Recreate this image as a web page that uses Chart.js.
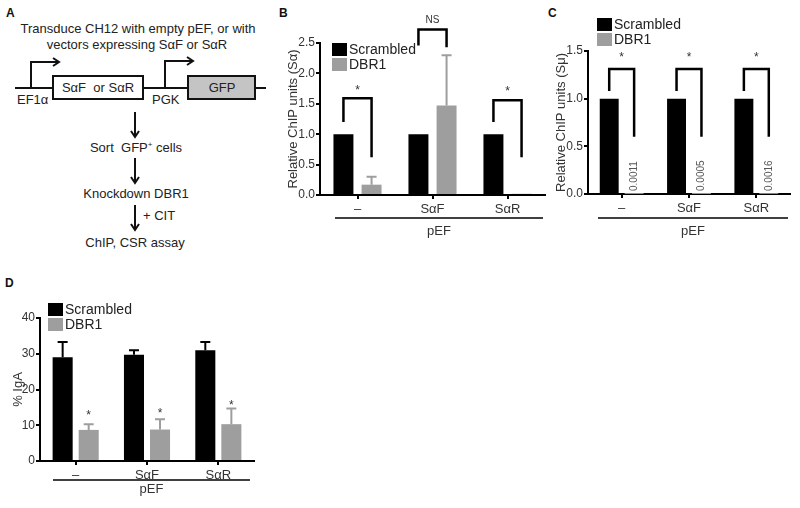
<!DOCTYPE html>
<html>
<head>
<meta charset="utf-8">
<script src="https://cdn.jsdelivr.net/npm/chart.js@4.4.1/dist/chart.umd.min.js"></script>
<style>
  body { margin: 0; width: 800px; height: 508px; background: #fff; position: relative; overflow: hidden; font-family: "Liberation Sans", Arial, sans-serif; }
  .panel { position: absolute; }
  .tag { position: absolute; font-weight: bold; font-size: 12px; color: #111; }
</style>
</head>
<body>

<!-- Panel A: workflow scheme -->
<svg class="panel" style="left:0;top:0" width="280" height="260" font-family="Liberation Sans, Arial, sans-serif" font-size="13" fill="#222">
  <defs>
    <marker id="ah" markerWidth="10" markerHeight="10" refX="7" refY="5" orient="auto" markerUnits="userSpaceOnUse">
      <path d="M1,1 L7,5 L1,9" fill="none" stroke="#111" stroke-width="2"/>
    </marker>
  </defs>
  <text x="138" y="33" text-anchor="middle">Transduce CH12 with empty pEF, or with</text>
  <text x="137" y="49" text-anchor="middle">vectors expressing SαF or SαR</text>
  <line x1="15" y1="88" x2="266" y2="88" stroke="#111" stroke-width="2"/>
  <rect x="53" y="76" width="90" height="23" fill="#fff" stroke="#111" stroke-width="2"/>
  <text x="98" y="92" text-anchor="middle" xml:space="preserve">SαF  or SαR</text>
  <rect x="188" y="76" width="67" height="23" fill="#c4c4c4" stroke="#111" stroke-width="2"/>
  <text x="222" y="92" text-anchor="middle">GFP</text>
  <polyline points="31,88 31,62 59,62" fill="none" stroke="#111" stroke-width="2" marker-end="url(#ah)"/>
  <polyline points="165,88 165,61 193,61" fill="none" stroke="#111" stroke-width="2" marker-end="url(#ah)"/>
  <text x="17" y="104">EF1α</text>
  <text x="152" y="104">PGK</text>
  <line x1="135" y1="112" x2="135" y2="137" stroke="#111" stroke-width="2" marker-end="url(#ah)"/>
  <text x="136" y="152" text-anchor="middle" xml:space="preserve">Sort  GFP<tspan font-size="8" dy="-5">+</tspan><tspan dy="5"> cells</tspan></text>
  <line x1="135" y1="158" x2="135" y2="183" stroke="#111" stroke-width="2" marker-end="url(#ah)"/>
  <text x="136" y="198" text-anchor="middle">Knockdown DBR1</text>
  <line x1="135" y1="205" x2="135" y2="230" stroke="#111" stroke-width="2" marker-end="url(#ah)"/>
  <text x="143" y="220">+ CIT</text>
  <text x="135" y="247" text-anchor="middle">ChIP, CSR assay</text>
</svg>

<div class="tag" style="left:6px;top:6px">A</div>
<div class="tag" style="left:279px;top:6px">B</div>
<div class="tag" style="left:548px;top:6px">C</div>
<div class="tag" style="left:5px;top:276px">D</div>

<div class="panel" style="left:250px;top:0;width:300px;height:250px"><canvas id="chartB"></canvas></div>
<div class="panel" style="left:520px;top:0;width:280px;height:250px"><canvas id="chartC"></canvas></div>
<div class="panel" style="left:0;top:260px;width:270px;height:248px"><canvas id="chartD"></canvas></div>

<script>
const groups = ['–', 'SαF', 'SαR'];
const seriesNames = ['Scrambled', 'DBR1'];

// B: relative ChIP units (Sα)
const bScrambled = [1, 1, 1];
const bDbr1 = [0.17, 1.47, 0.02];
const bDbr1Err = [0.30, 2.30, null];
const bBracketTop = [1.59, 2.72, 1.56];
const bBracketLeft = [1.2, 2.46, 1.2];
const bBracketRight = [0.62, 2.43, 0.62];
const bSigText = ['*', 'NS', '*'];
const bSigY = [1.77, 2.87, 1.75];

// C: relative ChIP units (Sμ)
const cScrambled = [1, 1, 1];
const cDbr1 = [0.0011, 0.0005, 0.0016];
const cBracketTop = [1.31, 1.31, 1.31];
const cBracketLeft = [1.08, 1.08, 1.08];
const cBracketRight = [0.6, 0.6, 0.6];
const cSigText = ['*', '*', '*'];
const cSigY = [1.46, 1.46, 1.46];

// D: % IgA
const dScrambled = [29.0, 29.7, 31.0];
const dScrambledErr = [33.3, 31.0, 33.3];
const dDbr1 = [8.7, 8.8, 10.3];
const dDbr1Err = [10.3, 11.7, 14.7];
const dSigText = ['*', '*', '*'];
const dSigY = [13.6, 14.0, 16.4];

const BLACK = '#000';
const GREY = '#9e9e9e';
const FONT = '"Liberation Sans", Arial, sans-serif';

Chart.defaults.font.family = FONT;
Chart.defaults.color = '#333';

// draws error bars, brackets, stars, legend and the pEF line
const extrasPlugin = {
  id: 'extras',
  afterDraw(chart, args, opts) {
    const ctx = chart.ctx;
    const area = chart.chartArea;
    const y = chart.scales.y;
    const m0 = chart.getDatasetMeta(0), m1 = chart.getDatasetMeta(1);
    ctx.save();

    // error bars (upper only)
    chart.data.datasets.forEach((ds, i) => {
      if (!ds.errTop) return;
      const meta = chart.getDatasetMeta(i);
      ctx.strokeStyle = ds.backgroundColor;
      ctx.lineWidth = 2;
      ds.errTop.forEach((e, j) => {
        if (e == null) return;
        const bar = meta.data[j];
        const yt = y.getPixelForValue(e);
        ctx.beginPath();
        ctx.moveTo(bar.x, bar.y);
        ctx.lineTo(bar.x, yt);
        ctx.moveTo(bar.x - 5, yt);
        ctx.lineTo(bar.x + 5, yt);
        ctx.stroke();
      });
    });

    // significance brackets
    if (opts.brackets) {
      const b = opts.brackets;
      ctx.strokeStyle = '#000';
      ctx.lineWidth = 2.5;
      b.top.forEach((t, j) => {
        const xl = m0.data[j].x, xr = m1.data[j].x;
        const yt = y.getPixelForValue(t);
        ctx.beginPath();
        ctx.moveTo(xl, y.getPixelForValue(b.left[j]));
        ctx.lineTo(xl, yt);
        ctx.lineTo(xr, yt);
        ctx.lineTo(xr, y.getPixelForValue(b.right[j]));
        ctx.stroke();
        drawSig(ctx, b.text[j], (xl + xr) / 2, y.getPixelForValue(b.textY[j]));
      });
    }

    // stars over grey bars
    if (opts.stars) {
      opts.stars.text.forEach((s, j) => {
        drawSig(ctx, s, m1.data[j].x, y.getPixelForValue(opts.stars.y[j]));
      });
    }

    // rotated value labels
    if (opts.valueLabels) {
      ctx.fillStyle = '#555';
      ctx.font = '10px ' + FONT;
      ctx.textAlign = 'left';
      ctx.textBaseline = 'middle';
      chart.data.datasets[1].data.forEach((v, j) => {
        ctx.save();
        ctx.translate(m1.data[j].x, area.bottom - 3);
        ctx.rotate(-Math.PI / 2);
        ctx.fillText(String(v), 0, 0);
        ctx.restore();
      });
    }

    // legend
    const lg = opts.legend;
    ctx.font = '14px ' + FONT;
    ctx.textAlign = 'left';
    ctx.textBaseline = 'middle';
    chart.data.datasets.forEach((ds, i) => {
      const lx = area.left + lg.dx, ly = area.top + lg.dy + i * 15;
      ctx.fillStyle = ds.backgroundColor;
      ctx.fillRect(lx, ly, 15, 13);
      ctx.fillStyle = '#222';
      ctx.fillText(ds.label, lx + 17, ly + 7);
    });

    // pEF grouping line
    const p = opts.pef;
    const ly = area.bottom + p.lineDy;
    const x0 = area.left + p.x0, x1 = area.right - p.x1;
    ctx.strokeStyle = '#000';
    ctx.lineWidth = 1.5;
    ctx.beginPath();
    ctx.moveTo(x0, ly);
    ctx.lineTo(x1, ly);
    ctx.stroke();
    ctx.fillStyle = '#333';
    ctx.font = '13px ' + FONT;
    ctx.textAlign = 'center';
    ctx.textBaseline = 'middle';
    ctx.fillText('pEF', (x0 + x1) / 2, area.bottom + p.textDy);

    ctx.restore();
  }
};

function drawSig(ctx, s, x, yPix) {
  ctx.fillStyle = '#333';
  ctx.textAlign = 'center';
  ctx.textBaseline = 'middle';
  if (s === '*') {
    ctx.font = '12px ' + FONT;
    ctx.fillText(s, x, yPix + 3);
  } else {
    ctx.font = '10px ' + FONT;
    ctx.fillText(s, x, yPix);
  }
}

function makeChart(id, cfg) {
  return new Chart(document.getElementById(id), {
    type: 'bar',
    data: {
      labels: groups,
      datasets: [
        { label: seriesNames[0], data: cfg.scrambled, errTop: cfg.scrambledErr, backgroundColor: BLACK,
          categoryPercentage: cfg.catPct, barPercentage: cfg.barPct },
        { label: seriesNames[1], data: cfg.dbr1, errTop: cfg.dbr1Err, backgroundColor: GREY,
          categoryPercentage: cfg.catPct, barPercentage: cfg.barPct }
      ]
    },
    options: {
      responsive: true,
      maintainAspectRatio: false,
      animation: false,
      devicePixelRatio: 1,
      layout: { padding: cfg.padding },
      plugins: {
        legend: { display: false },
        tooltip: { enabled: false },
        extras: cfg.extras
      },
      scales: {
        x: {
          grid: { display: true, drawOnChartArea: false, offset: false, tickLength: 4, color: '#000', lineWidth: 2 },
          border: { display: true, color: '#000', width: 2 },
          ticks: { font: { size: 13 }, padding: 3, color: '#333', maxRotation: 0 },
          afterFit: s => { s.height = cfg.xHeight; }
        },
        y: {
          min: 0, max: cfg.yMax,
          grid: { display: true, drawOnChartArea: false, tickLength: 4, color: '#000', lineWidth: 2 },
          border: { display: true, color: '#000', width: 2 },
          ticks: { stepSize: cfg.yStep, font: { size: 12 }, padding: 1, color: '#333',
                   callback: cfg.tickFmt },
          title: { display: true, text: cfg.yTitle, font: { size: 13 }, color: '#333', padding: 0 },
          afterFit: s => { s.width = cfg.yWidth; }
        }
      }
    },
    plugins: [extrasPlugin]
  });
}

makeChart('chartB', {
  scrambled: bScrambled, dbr1: bDbr1, scrambledErr: null, dbr1Err: bDbr1Err,
  catPct: 0.75, barPct: 0.71,
  padding: { left: 36, top: 43, right: 5, bottom: 30 },
  xHeight: 25, yWidth: 34, yMax: 2.5, yStep: 0.5,
  tickFmt: v => v.toFixed(1),
  yTitle: 'Relative ChIP units (Sα)',
  extras: {
    brackets: { top: bBracketTop, left: bBracketLeft, right: bBracketRight, text: bSigText, textY: bSigY },
    legend: { dx: 12, dy: 0 },
    pef: { x0: 15, x1: 2, lineDy: 23, textDy: 36 }
  }
});

makeChart('chartC', {
  scrambled: cScrambled, dbr1: cDbr1, scrambledErr: null, dbr1Err: null,
  catPct: 0.74, barPct: 0.76,
  padding: { left: 34, top: 51, right: 10, bottom: 31 },
  xHeight: 25, yWidth: 34, yMax: 1.5, yStep: 0.5,
  tickFmt: v => v.toFixed(1),
  yTitle: 'Relative ChIP units (Sμ)',
  extras: {
    brackets: { top: cBracketTop, left: cBracketLeft, right: cBracketRight, text: cSigText, textY: cSigY },
    valueLabels: true,
    legend: { dx: 9, dy: -33 },
    pef: { x0: 10, x1: 2, lineDy: 24, textDy: 37 }
  }
});

makeChart('chartD', {
  scrambled: dScrambled, dbr1: dDbr1, scrambledErr: dScrambledErr, dbr1Err: dDbr1Err,
  catPct: 0.73, barPct: 0.77,
  padding: { left: 11, top: 58, right: 16, bottom: 27 },
  xHeight: 20, yWidth: 29, yMax: 40, yStep: 10,
  tickFmt: v => v,
  yTitle: '% IgA',
  extras: {
    stars: { text: dSigText, y: dSigY },
    legend: { dx: 8, dy: -15 },
    pef: { x0: 13, x1: 4, lineDy: 19, textDy: 28 }
  }
});
</script>
</body>
</html>
